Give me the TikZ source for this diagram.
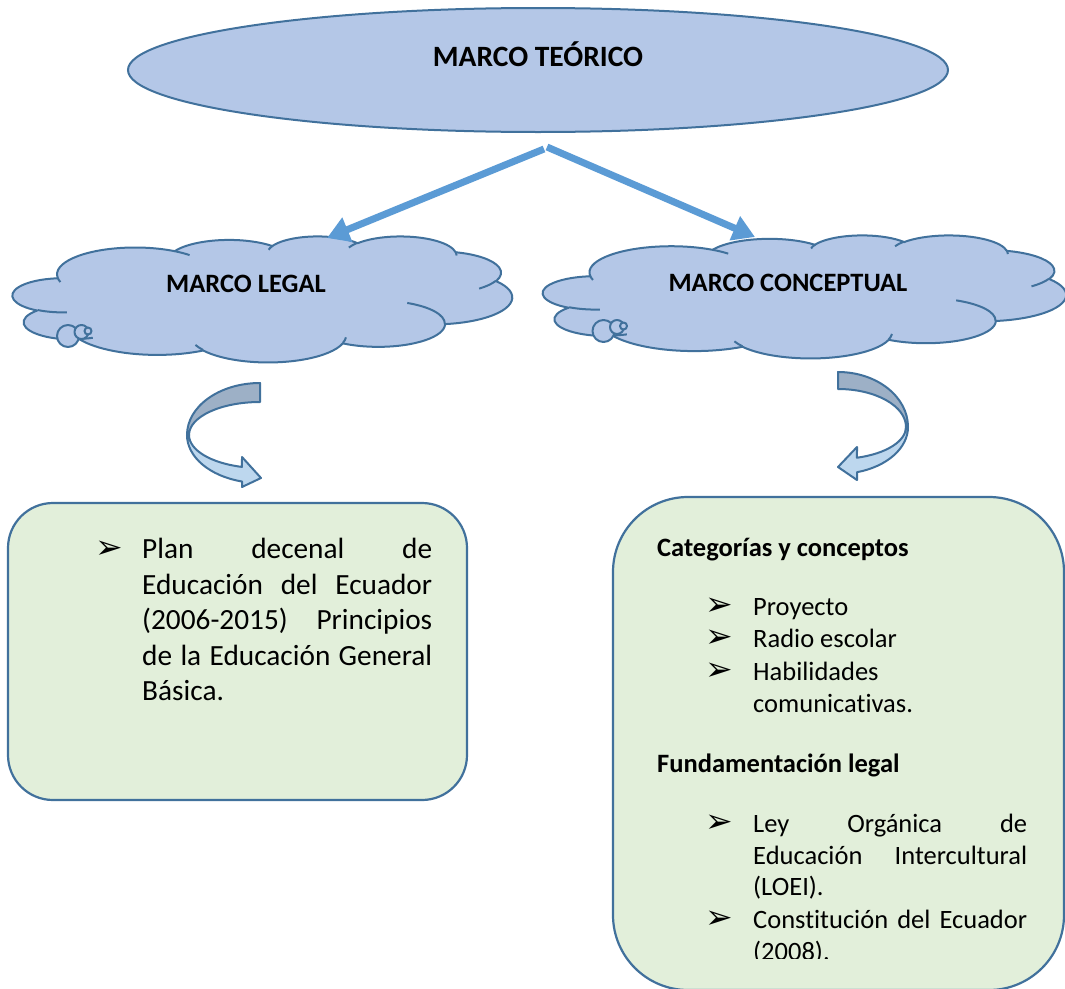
\documentclass[tikz,border=0pt]{standalone}
\usepackage{fontspec}
\setmainfont{Carlito}[Ligatures=NoCommon]
\newfontfamily\dejavu{DejaVu Sans}
\usetikzlibrary{arrows.meta,shapes.geometric}
\definecolor{shapefill}{HTML}{B4C7E7}
\definecolor{shapeline}{HTML}{41719C}
\definecolor{arrowblue}{HTML}{5B9BD5}
\definecolor{boxfill}{HTML}{E2EFDA}
\definecolor{curvedark}{HTML}{9DB0C6}
\definecolor{curvelight}{HTML}{BDD7EE}
% OOXML-style elliptical arc: wR, hR, start (visual) angle, sweep
\newcommand\CA[4]{\pgfextra{\pgfmathsetmacro\caT{atan2((#1)*sin(#3),(#2)*cos(#3))}\pgfmathsetmacro\caD{mod(atan2((#1)*sin((#3)+(#4)),(#2)*cos((#3)+(#4)))-\caT+720,360)}} arc[x radius=#1, y radius=#2, start angle=\caT, delta angle=\caD]}
\newcommand\drawcloud[4]{%
\begin{scope}[shift={(#1,#2)}, x=#3pt, y=-#4pt]
\draw[cloudshape] (3.9,14.37)
 \CA{6.753}{9.19}{-190.4875}{123.7805}
 \CA{5.333}{7.267}{-144.1024}{89.9452}
 \CA{4.365}{5.945}{-145.8079}{99.7230}
 \CA{4.857}{6.595}{-130.9861}{117.2417}
 \CA{5.333}{7.273}{-78.7089}{109.0269}
 \CA{6.775}{9.22}{-46.2673}{130.2690}
 \CA{5.785}{7.867}{0.6250}{114.0333}
 \CA{6.752}{9.215}{22.4516}{115.1726}
 \CA{7.72}{10.543}{66.2426}{75.7110}
 \CA{4.36}{5.918}{-274.9421}{146.7356}
 \CA{4.345}{5.945}{-246.8285}{152.5189}
 -- cycle;
\draw[cloudinner]
 (4.693,26.177) \CA{4.345}{5.945}{86.742}{26.4295}
 (6.928,34.899) \CA{4.36}{5.918}{73.6105}{11.4475}
 (16.478,39.09) \CA{6.752}{9.215}{137.6242}{14.0811}
 (28.827,34.751) \CA{6.752}{9.215}{6.4533}{15.9984}
 (34.129,22.954) \CA{5.785}{7.867}{-70.2924}{70.9174}
 (41.798,15.354) \CA{5.333}{7.273}{30.318}{27.7515}
 (38.324,5.426) \CA{4.857}{6.595}{-13.7443}{14.8589}
 (29.078,3.952) \CA{4.857}{6.595}{-149.1815}{18.1954}
 (22.141,4.72) \CA{4.365}{5.945}{-163.4943}{17.6864}
 (14,5.192) \CA{6.753}{9.19}{-66.707}{12.3194}
 (4.127,15.789) \CA{6.753}{9.19}{157.6544}{11.8582};
\end{scope}}
\begin{document}
\begin{tikzpicture}[x=1pt,y=-1pt,
 outline/.style={draw=shapeline, line width=2pt, line join=round},
 cloudshape/.style={outline, fill=shapefill},
 cloudinner/.style={draw=shapeline, line width=2pt},
 bigarrow/.style={draw=arrowblue, line width=7pt, -{Triangle[length=22pt,width=25pt]}},
 box/.style={draw=shapeline, line width=2.2pt, fill=boxfill, inner sep=0pt},
 headtxt/.style={font=\bfseries\fontsize{26.5}{32}\selectfont, inner sep=0pt},
 bodytxt/.style={font=\fontsize{26.5}{32}\selectfont, inner sep=0pt, anchor=base west},
 bigtxt/.style={font=\fontsize{29.3}{35.6}\selectfont, inner sep=0pt, anchor=base west},
 bul/.style={font=\dejavu\fontsize{33}{33}\selectfont, inner sep=0pt, anchor=base west}]
\useasboundingbox (0,0) rectangle (1065,988);
\fill[white] (0,0) rectangle (1065,988);

% top ellipse
\node[ellipse, draw=shapeline, line width=2pt, fill=shapefill, minimum width=820pt, minimum height=124pt, inner sep=0pt] (teo) at (538,70) {};
\node[headtxt, font=\bfseries\fontsize{29.5}{34}\selectfont, anchor=base] (teotext) at (538,66) {MARCO TEÓRICO};

% clouds
\drawcloud{12.7}{236}{11.56}{2.9167}
\drawcloud{543}{235}{12.106}{2.8472}
\foreach \cx/\cy in {68/336, 603.5/331}{
 \draw[cloudshape] (\cx,\cy) circle[radius=11];
 \draw[cloudshape] (\cx+13.5,\cy-4) circle[radius=7];
 \draw[cloudshape] (\cx+20,\cy-5) circle[radius=3.5];
}
\node[headtxt, anchor=base] (legal) at (246,292.5) {MARCO LEGAL};
\node[headtxt, anchor=base] (concep) at (788,291.5) {MARCO CONCEPTUAL};

% straight arrows
\coordinate (tailL) at (544,149);
\coordinate (tailR) at (547,147);
\coordinate (tipL) at (327,238);
\coordinate (tipR) at (755,237);
\draw[bigarrow] (tailL) -- (tipL);
\draw[bigarrow] (tailR) -- (tipR);

% curved arrow left
\filldraw[outline, fill=curvedark] (260,383) arc[start angle=-90, end angle=-180, x radius=73, y radius=52]
 -- (189,435) arc[start angle=180, end angle=270, x radius=71, y radius=33] -- cycle;
\filldraw[outline, fill=curvelight] (189,435) arc[start angle=180, end angle=104.7, x radius=71, y radius=33]
 -- (242,457) -- (261,478) -- (242,487) -- (242,481.5)
 arc[start angle=104.27, end angle=180, x radius=73, y radius=48] -- cycle;
% curved arrow right
\filldraw[outline, fill=curvedark] (838,372) arc[start angle=-90, end angle=0, x radius=70, y radius=55]
 -- (906,427) arc[start angle=0, end angle=-90, x radius=68, y radius=38] -- cycle;
\filldraw[outline, fill=curvelight] (906,427) arc[start angle=0, end angle=73.8, x radius=68, y radius=32]
 -- (857,447) -- (838,467) -- (857,480) -- (857,472.2)
 arc[start angle=74.25, end angle=0, x radius=70, y radius=47] -- cycle;

% boxes
\node[box, rounded corners=45pt, minimum width=459pt, minimum height=297pt] (legalbox) at (237.5,651.5) {};
\node[box, rounded corners=75pt, minimum width=451pt, minimum height=493pt] (concbox) at (838.5,743.5) {};

% left box text
\node[bul] (lb1) at (95,558) {➢};
\node[bigtxt] (l1) at (142,558) {\makebox[290pt][s]{Plan decenal de}};
\node[bigtxt] (l2) at (142,594) {\makebox[290pt][s]{Educación del Ecuador}};
\node[bigtxt] (l3) at (142,629.5) {\makebox[290pt][s]{(2006-2015) Principios}};
\node[bigtxt] (l4) at (142,665) {\makebox[290pt][s]{de la Educación General}};
\node[bigtxt] (l5) at (142,700) {Básica.};

% right box text
\node[headtxt, anchor=base west] (h1) at (657,556) {Categorías y conceptos};
\node[bul] (rb1) at (705,615) {➢};
\node[bodytxt] (r1) at (753,615) {Proyecto};
\node[bul] (rb2) at (705,647) {➢};
\node[bodytxt] (r2) at (753,647) {Radio escolar};
\node[bul] (rb3) at (705,680) {➢};
\node[bodytxt] (r3) at (753,680) {Habilidades};
\node[bodytxt] (r4) at (753,712) {comunicativas.};
\node[headtxt, anchor=base west] (h2) at (657,772) {Fundamentación legal};
\node[bul] (rb4) at (705,832) {➢};
\node[bodytxt] (r5) at (753,832) {\makebox[274pt][s]{Ley Orgánica de}};
\node[bodytxt] (r6) at (753,864) {\makebox[274pt][s]{Educación Intercultural}};
\node[bodytxt] (r7) at (753,895.5) {(LOEI).};
\node[bul] (rb5) at (705,928) {➢};
\node[bodytxt] (r8) at (753,928) {\makebox[274pt][s]{Constitución del Ecuador}};
\begin{scope}
\clip (600,900) rectangle (1065,958.3);
\node[bodytxt] (r9) at (753,960) {(2008).};
\end{scope}
\end{tikzpicture}
\end{document}
